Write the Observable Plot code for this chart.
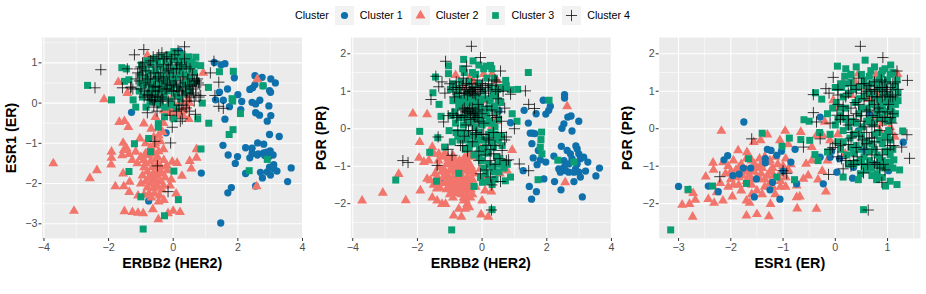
<!DOCTYPE html>
<html><head><meta charset="utf-8">
<script src="https://cdn.jsdelivr.net/npm/d3@7"></script>
<script src="https://cdn.jsdelivr.net/npm/@observablehq/plot@0.6"></script>
<style>
html,body{margin:0;padding:0;background:#fff;font-family:"Liberation Sans",Arial,sans-serif;}
#page{width:926px;height:294px;position:relative;overflow:hidden}
#legend{height:30px;display:flex;align-items:center;font-size:10.7px;color:#000;padding-left:295px;box-sizing:border-box;padding-top:0}
#legend .key{width:19px;height:19px;background:#F2F2F2;margin-right:6px;display:block}
#legend .lab{display:block}
#panels{display:flex;height:264px}
#panels svg{display:block;overflow:visible;flex:none}
[aria-label="x-axis label"],[aria-label="y-axis label"]{font:bold 14.3px "Liberation Sans",Arial,sans-serif;fill:#000}
[aria-label="x-axis tick label"],[aria-label="y-axis tick label"]{font:10.7px "Liberation Sans",Arial,sans-serif;fill:#4D4D4D}
[aria-label="x-axis tick"],[aria-label="y-axis tick"]{stroke:#333333}
</style></head><body><div id="page"><div id="legend"></div><div id="panels"></div></div>
<script>
const clusterNames = ["Cluster 1","Cluster 2","Cluster 3","Cluster 4"];
const clusterColors = ["#0F71AC","#F2756C","#0A9E73","#000000"];
const clusterSymbols = ["circle","triangle","square","plus"];

// Panel 1: ERBB2 (x), ESR1 (y)
const p1c1 = [[1.27,1.01],[1.48,.95],[1.6,.98],[1.89,.63],[2.53,.68],[2.75,.64],[3.02,.6],[3.16,.5],[2.37,.34],[2.46,.38],[2.53,.46],[2.78,.43],[2.98,.31],[3.01,.27],[1.43,.27],[1.68,.35],[2,.21],[1.31,.08],[1.55,.07],[2.12,.04],[2.44,.02],[2.55,-.02],[2.68,.07],[2.96,-.07],[1.74,-.09],[2.09,-.16],[2.55,-.24],[2.67,-.3],[3.02,-.31],[2.91,-.45],[1.6,-.4],[-1.29,-.23],[1.54,-1.05],[2.98,-.78],[3.28,-.83],[2.61,-.99],[2.8,-1.02],[2.24,-1.11],[2.44,-1.12],[1.7,-1.29],[1.99,-1.33],[2.37,-1.36],[2.63,-1.26],[2.8,-1.24],[2.9,-1.22],[3,-1.19],[2.83,-1.3],[2.95,-1.27],[3.09,-1.29],[2.95,-1.34],[2.6,-1.29],[2.44,-1.25],[1.92,-1.5],[.87,-1.74],[3.11,-1.53],[2.98,-1.59],[3.11,-1.63],[3.21,-1.69],[2.91,-1.71],[3.01,-1.79],[3.65,-1.61],[2.24,-1.75],[2.7,-1.72],[2.76,-1.86],[3.54,-1.95],[2.55,-2.06],[1.8,-2.1],[1.69,-2.23],[1.47,-2.98],[-.76,-2.43],[-.7,-1.82],[-.22,-.74],[.19,1.29],[.54,.91],[.02,.58]];
const p1c2 = [[-3.71,-1.5],[-3.07,-2.68],[-2.58,-1.87],[-2.36,-1.67],[-2.14,.09],[-1.7,.52],[-1.42,.25],[-1.91,-1.21],[-1.91,-1.36],[-1.92,-1.53],[-1.79,-2.07],[-1.53,-2.07],[-1.35,-1.96],[-1.55,-1.75],[-1.36,-2.21],[-1.09,-2.3],[-1.67,-.47],[-1.51,-.45],[-1.39,-.6],[-.91,-.51],[-.55,-.35],[-.68,-.64],[-.33,-.72],[-1.55,-.99],[-1.03,-.88],[-1.53,-1.17],[-1.58,-1.30],[-1.37,-1.27],[-1.44,-1.13],[-1.16,-1.21],[-1.0,-1.34],[-1.27,-1.42],[-.86,-1.26],[-1.11,-1.5],[-.91,-1.42],[-1.51,-2.69],[-1.26,-2.71],[-1.09,-2.73],[-.93,-2.74],[-.63,-2.64],[-.46,-2.89],[-.16,-2.74],[0,-2.68],[.21,-2.71],[-.29,-2.41],[.09,-2.25],[.72,-1.15],[.72,-1.36],[.51,-1.44],[.56,-1.63],[.27,-1.81],[-.06,-1.9],[.12,-1.49],[-.03,-1.46],[-.29,-1.42],[-.39,-1.58],[-.18,-1.67],[2.6,.59],[2.58,-2.07],[.93,.75],[.23,.63],[.48,-.4],[-.29,-.18],[.12,-.1],[.33,-.18],[-.08,.07],[-.6,.56],[-.8,1.18],[0,1.1],[-.85,-1.0],[-.7,-1.1],[-.55,-1.0],[-.4,-.95],[-.75,-1.3],[-.6,-1.25],[-.45,-1.2],[-.3,-1.15],[-.85,-1.5],[-.7,-1.45],[-.55,-1.4],[-.9,-1.6],[-.8,-1.7],[-.65,-1.6],[-.5,-1.55],[-.35,-1.75],[-.25,-1.85],[-.75,-1.85],[-.6,-1.75],[-.45,-1.7],[-.85,-1.95],[-.7,-2.0],[-.55,-1.9],[-.4,-1.95],[-.3,-2.05],[-.8,-2.1],[-.62,-2.12],[-.48,-2.08],[-.35,-2.15],[-.75,-2.25],[-.58,-2.25],[-.42,-2.3],[-.9,-2.28],[-.68,-2.35],[-.45,-2.45],[-.95,-1.8],[-1,-2.0],[-.2,-1.55],[-.1,-2.05],[-.6,-.85],[-.45,-.8],[-.3,-.5],[-.2,-.25],[.05,-.3],[.3,-.3],[.45,.1],[-.15,.4],[-.6,-1.05],[-.48,-1.35],[.2,-.25],[.4,-.1],[0,-.2],[-.1,-.15],[.5,0],[.25,.05],[-.65,-1.95],[-.55,-2.05],[-.65,-1.8],[-.5,-1.8]];
const p1c3 = [[-2.65,.44],[-1.91,.08],[-1.59,.88],[-1.45,.85],[-1.51,.54],[-1.37,.58],[-1.16,-.1],[-1.24,.08],[1.43,.78],[1.86,.79],[1.82,.11],[1.84,.05],[2.08,-.26],[1.1,-.5],[1.85,-.66],[1.73,-.78],[.76,-.39],[.9,0],[1.09,.39],[.7,1.14],[.85,.93],[2.78,.43],[-.76,-.88],[-.46,-.51],[-.46,-.6],[-.27,-.34],[.02,-.39],[-.84,-.1],[-1.2,-1.01],[.86,-1.14],[-.7,-1.21],[-1.37,-1.7],[.02,-1.69],[2.35,-1.68],[2.91,-1.4],[.16,-2.4],[-1,-2.33],[-.27,-2.8],[-.93,-3.13],[-1.05,.3],[-.95,.15],[-.9,.45],[-.85,.6],[-.8,.25],[-.75,.75],[-.72,.05],[-.7,.95],[-.68,.4],[-.65,.55],[-.6,1.1],[-.58,.2],[-.55,.8],[-.52,.35],[-.5,.65],[-.48,1],[-.45,.1],[-.42,.5],[-.4,.9],[-.38,.3],[-.35,1.15],[-.32,.7],[-.3,.45],[-.28,.15],[-.25,1.05],[-.22,.85],[-.2,.6],[-.18,.3],[-.15,1.2],[-.12,.95],[-.1,.05],[-.08,.75],[-.05,.4],[-.02,1.1],[0,.55],[.02,1.28],[.05,.85],[.08,.2],[.1,1.18],[.12,.65],[.15,.95],[.18,.4],[.2,1.05],[.22,.1],[.25,.75],[.28,1.2],[.3,.5],[.32,.9],[.35,.25],[.38,1.08],[.4,.7],[.42,.45],[.45,.95],[.48,1.15],[.5,.6],[.52,.3],[.55,.85],[.58,1.02],[.6,.5],[.65,.75],[.68,.95],[.72,.55],[-.98,.95],[-1,.7],[-1.02,.5],[-.9,.85],[-.82,1.05],[-.7,.28],[-.6,.02],[-.4,-.05],[-.25,-.1],[-.05,-.05],[.1,-.12]];
const p1c4 = [[-2.24,.83],[-2.42,.38],[-1.2,1.2],[-.91,1.33],[.35,1.4],[1.26,1.04],[1.15,.75],[1.41,.52],[1.29,.19],[1.41,-.08],[1.55,-.13],[-1.57,.38],[-1.42,.85],[-1.32,.38],[-.8,-.24],[-.03,-.6],[.28,-.39],[.69,-.28],[.85,.19],[-.08,-.99],[-.57,-.95],[-.49,-1.56],[-.16,-2.2],[-1.1,.75],[-1.05,.55],[-1,.35],[-1.3,.4],[-1.15,.6],[-.95,1],[-.85,.8],[-.85,.5],[-.8,.2],[-.75,.45],[-.7,.65],[-.68,.15],[-.62,1.15],[-.6,.4],[-.58,.05],[-.55,.6],[-.5,.9],[-.48,.2],[-.45,1.2],[-.42,.4],[-.4,.75],[-.35,.55],[-.32,.1],[-.28,1.1],[-.25,.35],[-.2,.8],[-.18,.5],[-.15,.05],[-.12,.65],[-.08,.95],[-.05,.3],[0,.75],[.02,.45],[.05,.1],[.08,.55],[.12,1.0],[.15,.3],[.18,-.05],[.2,.85],[.22,.5],[.25,-.15],[.28,.2],[.3,.65],[.35,1.1],[.38,.4],[.42,.05],[.45,.6],[.5,.15],[.52,.85],[.55,.42],[.6,.7],[.62,.25],[.65,.05],[.7,.4],[.72,.55],[.78,.5],[.82,.45],[.8,.15],[-.55,.15],[-.72,.08],[.4,-.12],[-.5,-.2],[-.1,-.3],[.22,-.45],[.05,1.2],[-.2,1.15],[-.7,1.05],[.15,1.3],[-1,.9],[-.9,.3],[-.8,.6],[-.65,.3],[-.55,.42],[-.45,.3],[-.35,.15],[-.3,.6],[-.2,.35],[-.1,.45],[0,.3],[.1,.4],[.2,.3],[.3,.35],[.4,.25],[.5,.45],[.6,.35],[.7,.2],[.75,.6],[.65,.55],[.55,.2],[-.6,.75],[-.75,.95],[-.95,.7],[-1.05,.85],[-.3,.95],[-.15,.85],[.1,.85],[.25,.95],[.4,.9],[-.5,1.1],[-.35,1.25],[-.05,1.1],[-.9,.15],[-.75,.2],[-.65,.08],[-.4,.05],[.1,-.2],[.3,-.05],[.5,-.2],[-1.25,.35],[-.6,-.1],[-.45,.65]];

// Panel 2: ERBB2 (x), PGR (y)
const p2c1 = [[1.3,.49],[1.89,.76],[2.55,.91],[2.55,.82],[2.11,.6],[2.06,.49],[1.97,.39],[1.67,.4],[1.43,.15],[.88,.16],[.52,.48],[2.65,.31],[2.75,.34],[2.99,.2],[2.53,.13],[2.47,.01],[2.78,-.06],[1.49,-.12],[1.57,-.12],[1.63,-.13],[1.54,-.4],[1.74,-.58],[2.45,-.47],[2.9,-.46],[1.58,-.78],[1.7,-.96],[1.8,-.83],[1.97,-.89],[2.22,-.73],[1.27,-1.12],[1.91,-1.34],[2.24,-1.41],[1.46,-1.54],[1.68,-1.68],[1.53,-1.88],[2.44,-1.63],[3.1,-1.82],[3.63,-1.05],[3.52,-1.26],[3.2,-1.13],[3.27,-.89],[3.14,-.76],[2.37,-1.07],[2.42,-1.16],[2.53,-.85],[2.63,-.58],[2.73,-.67],[2.68,-.94],[2.78,-.8],[2.94,-.54],[2.99,-.67],[3.04,-.8],[2.94,-.94],[2.89,-1.07],[2.99,-1.16],[3.04,-1.29],[2.84,-1.41],[2.68,-1.16],[2.58,-1.12],[2.53,-1.03],[2.84,-1.16],[.05,-.58],[-1.27,-1.43],[-.77,-1.52]];
const p2c2 = [[-3.71,-1.92],[-3.07,-1.71],[-2.36,-1.91],[-2.58,-1.21],[-2.14,.4],[-1.7,.38],[-1.93,-.36],[-1.95,-.78],[-1.8,-.89],[-1.91,-1.65],[2.63,.6],[2.57,-1.43],[.93,-.57],[.22,.8],[.09,.42],[-.3,.18],[.41,.31],[-.36,1.4],[.46,1.29],[.31,1.46],[.05,1.46],[-.26,1.25],[-.82,1.43],[-.88,-2.32],[-.64,-2.35],[-.72,-2.14],[-.52,-2.14],[-.03,-2.29],[.19,-2.35],[0,-1.92],[.29,-1.68],[.09,-1.65],[-1.6,-1.38],[-1.39,-1.29],[-1.7,-1.34],[-1.54,-1.84],[-1.39,-1.92],[-1.24,-2.01],[-1.13,-2.01],[-.9,-1.84],[-.57,-1.84],[-.36,-1.84],[-.57,-1.92],[-.46,-2.01],[-1.54,-.49],[-1.34,-.67],[-1.49,-.67],[-1.65,-.85],[-1.34,-1.03],[.77,-1.12],[-.05,-1.07],[-1.2,-.75],[-1.05,-.8],[-.9,-.72],[-.7,-.85],[-.55,-.78],[-1.1,-.95],[-.95,-.95],[-.8,-1],[-.65,-.98],[-.5,-.95],[-.35,-1],[-1.18,-1.1],[-1,-1.12],[-.85,-1.15],[-.7,-1.18],[-.55,-1.12],[-.4,-1.15],[-.25,-1.2],[-1.2,-1.3],[-1.05,-1.3],[-.9,-1.32],[-.75,-1.3],[-.6,-1.3],[-.45,-1.3],[-.3,-1.35],[-1.15,-1.45],[-1,-1.48],[-.85,-1.45],[-.7,-1.5],[-.55,-1.48],[-.4,-1.5],[-1.1,-1.62],[-.95,-1.62],[-.75,-1.65],[-.55,-1.65],[-.35,-1.62],[-.2,-1.55],[-1.3,-1.58],[.1,-1.3],[.55,-1.2],[-.4,-.65],[-.15,-.4],[-.6,.6],[-.55,1.1],[.1,.75],[-.2,-.7],[.3,.05],[.45,.2],[.55,-.4],[-1,-.85],[-.85,-.85],[-.6,-.88],[-.45,-.85],[-1.1,-1.2],[-.9,-1.05],[-.75,-1.1],[-.6,-1.05],[-.45,-1.05],[-.3,-1.1],[-1.1,-1.38],[-.95,-1.4],[-.8,-1.4],[-.65,-1.4],[-.5,-1.4],[-.35,-1.42],[-1.05,-1.55],[-.9,-1.55],[-.7,-1.58],[-.5,-1.58],[-.3,-1.55],[-1.25,-1.15],[-1.3,-1.45],[-1.45,-1.2],[-.65,-1.75],[-.45,-1.75],[-.85,-1.72],[-1,-1.75],[-.3,-1.75],[-1.4,-1.6],[-1.5,-1.5],[-1.35,-.85],[-1.15,-.65],[-.35,-.75],[-.5,-1.9],[-.4,-2.1]];
const p2c3 = [[-.94,-2.7],[-2.67,-1.37],[-1.93,-.07],[-1.62,-.63],[1.43,1.5],[2.07,.76],[1.84,-.09],[1.82,-.29],[1.8,-.49],[1.85,-.67],[1.73,-1.36],[2.34,-.84],[2.84,-.89],[1.1,1.05],[.88,1.04],[.93,.4],[1.08,.2],[.73,1.29],[.26,1.69],[.13,1.67],[-.57,1.85],[-.28,1.81],[-1.04,1.68],[-1.04,1.47],[-1.44,1.38],[-1.52,.96],[-1.33,.65],[-1.27,.33],[.31,-2.16],[-.25,-1.54],[.88,-1.29],[.72,-1.39],[-1.41,-1.4],[-1.16,-.49],[-1.37,-.24],[.01,-1.43],[.31,-1.49],[-.72,-1.19],[-.9,.75],[-.85,.45],[-.82,.15],[-.8,-.1],[-.75,1.05],[-.72,.6],[-.7,.3],[-.68,-.3],[-.65,1.25],[-.6,.8],[-.58,.1],[-.55,1.5],[-.52,-.55],[-.5,.5],[-.48,.95],[-.45,-.15],[-.42,1.25],[-.4,.2],[-.38,.7],[-.35,-.4],[-.3,1.05],[-.28,.45],[-.25,-.7],[-.22,.05],[-.2,1.45],[-.18,.85],[-.15,-.25],[-.12,.3],[-.1,1.2],[-.08,-.55],[-.05,.65],[-.02,-.85],[0,.1],[.02,1.0],[.05,1.6],[.08,-.3],[.1,.4],[.12,-1.2],[.15,1.35],[.18,.8],[.2,-.65],[.22,.2],[.25,1.1],[.28,-.1],[.3,-1.0],[.32,.55],[.35,-.5],[.38,1.35],[.4,.05],[.42,.9],[.45,-.75],[.48,1.05],[.5,.25],[.52,-1.15],[.55,-.8],[.58,.7],[.62,-.45],[.65,-.9],[.68,-1.05],[.7,1.1],[.75,1.15],[.78,-.95],[-.98,1.05],[-.95,.35],[-.92,-.35],[-1.02,-.05],[-.9,1.2],[-.8,.9],[-.7,.75],[-.6,.3],[-.55,.7],[-.45,.35],[-.4,.85],[-.35,.15],[-.3,.7],[-.25,.6],[-.2,.25],[-.15,.75],[-.1,.5],[-.05,.25],[0,.8],[.05,.5],[.1,.15],[.15,.35],[.2,.55],[.25,.75],[.3,.15],[.35,.9],[.4,.6],[.45,.45],[.5,.75],[.55,1.1],[-.75,-.2],[-.6,-.1],[-.5,-.3],[-.4,-.5],[-.3,-.2],[-.2,-.4],[-.1,-.1],[0,-.3],[.1,-.5],[.2,-.15],[.3,-.35],[.4,-.15],[.5,-.3],[.6,-.2],[-.1,-.75],[.05,-.65],[.2,-.95],[.35,-1.15],[.5,-.95],[.05,-1.05],[-.05,-1.3],[.2,-1.4],[.4,-1.35],[-.3,1.5],[-.6,1.6],[-.1,1.7],[.3,1.6],[.6,1.1]];
const p2c4 = [[-.33,2.2],[-.05,1.9],[-1.13,1.8],[-.48,1.67],[.57,1.54],[-1.43,1.4],[-1.24,1.25],[-1.58,.78],[-1.34,1.12],[1.34,1.01],[1.44,.65],[1.62,.54],[.88,.92],[1,0],[.75,-.22],[-1.36,-.22],[-1.19,.18],[-2.45,-.85],[-2.29,-.9],[-1.39,-.98],[1.15,-.94],[1.44,-1.12],[.82,-.83],[.57,-1.41],[.29,-2.17],[.26,-1.29],[-.1,-.85],[.36,-.67],[.62,-.58],[-.67,-.45],[-.93,-.71],[-1,1.2],[-.9,1.05],[-.85,.85],[-.8,1.25],[-.75,.35],[-.7,1.1],[-.65,.95],[-.6,.5],[-.58,1.35],[-.55,.3],[-.5,.1],[-.48,1.2],[-.45,.45],[-.42,-.05],[-.4,1.0],[-.38,.55],[-.35,.25],[-.32,1.2],[-.3,1.05],[-.28,.4],[-.25,.95],[-.22,.3],[-.2,1.1],[-.18,-.1],[-.15,1.3],[-.12,.65],[-.1,.2],[-.05,1.05],[0,-.15],[.02,1.2],[.05,.15],[.1,1.1],[.12,-.45],[.15,.6],[.2,1.0],[.22,-.25],[.25,-.55],[.3,1.15],[.32,.35],[.35,-.1],[.4,-.45],[.42,1.05],[.45,1.25],[.5,.8],[.55,.45],[.55,-.8],[.6,-.1],[.65,1.0],[.7,.55],[.75,-.85],[-.9,.4],[-1.05,.35],[-1.15,.95],[-1.05,-.55],[.15,-1.1],[.4,-.95],[-.05,-1.2],[.3,-1.5],[-.55,-.2],[-.75,-.05],[-.4,1.1],[-.35,1.0],[-.3,.95],[-.25,1.1],[-.2,.9],[-.15,1.05],[-.45,.9],[-.5,1.05],[-.55,.95],[-.6,1.15],[-.7,.95],[-.8,1.1],[-.1,1.0],[0,1.15],[.1,.95],[.2,1.2],[.4,1.3],[.5,1.0],[-.4,.5],[-.35,.4],[-.3,.55],[-.25,.35],[-.2,.45],[-.5,.45],[-.15,.3],[-.1,.5],[-.55,.55],[-.65,.35],[-.8,.3],[0,.4],[.3,.5],[.45,.3],[.6,.2],[-.6,-.45],[-.45,-.6],[-.3,-.35],[-.1,-.6],[.1,-.7],[.25,-.85],[.2,-.3],[.05,-.15],[-.2,-.15],[.7,-.3],[-.3,-.05]];

// Panel 3: ESR1 (x), PGR (y)
const p3c2 = [[-2.18,-.06],[-2.93,-2.03],[-2.79,-2.01],[-2.68,-1.9],[-2.73,-2.35],[-2.79,-1.65],[-2.72,-1.72],[-2.48,-1.28],[-2.34,-.91],[-2.33,-1.1],[-2.43,-1.88],[-2.32,-1.98],[-2.27,-1.7],[-2.15,-1.92],[-1.97,-1.81],[-1.7,-1.92],[-1.7,-2.32],[-1.5,-2.28],[-1.27,-2.34],[-1.64,-1.98],[-1.24,-2.01],[-.73,-2.13],[-.36,-2.14],[-.18,-1.68],[-.74,-1.83],[-.68,-1.81],[-.74,-1.52],[-.96,-.06],[-1.3,-.16],[-1.56,-.36],[-1.43,-.31],[-1.86,-.58],[-1.69,-.63],[-1.06,-.31],[-.66,-.09],[-.9,-.42],[-.61,-1.34],[-.52,-1.25],[-.33,-1.36],[-.56,-.94],[-.45,-.85],[-.25,-1.13],[-.15,-.85],[-.45,-.49],[-.24,-.18],[-.36,-.18],[-2.15,-.9],[-2.05,-1],[-2.1,-1.2],[-2,-1.35],[-1.95,-.85],[-1.9,-1.1],[-1.85,-1.3],[-1.85,-1.5],[-1.8,-.95],[-1.75,-1.15],[-1.7,-1.4],[-1.7,-.8],[-1.65,-1.25],[-1.6,-1.5],[-1.55,-.95],[-1.55,-1.15],[-1.5,-1.65],[-1.45,-.8],[-1.45,-1.35],[-1.4,-1.05],[-1.35,-1.55],[-1.3,-.9],[-1.3,-1.25],[-1.25,-1.45],[-1.2,-1.05],[-1.15,-.75],[-1.1,-1.3],[-1.05,-1.55],[-1,-1.0],[-.95,-1.3],[-2.2,-1.45],[-2.05,-1.55],[-1.95,-1.5],[-1.8,-1.65],[-1.6,-1.75],[-1.4,-1.75],[-1.15,-1.75],[-.95,-.8],[-.85,-.95],[-.04,.76],[-.2,.18],[.15,1.25],[.27,1.43],[.78,1.43],[1.19,1.46],[.63,.79],[.44,1.47],[.19,-.67],[.28,-.94],[-.1,-.31],[1.05,.04],[1.14,-.22],[.3,.9],[.9,.25],[.75,.3],[.05,.55],[.6,1.1],[.95,.75],[-2,-1.15],[-1.95,-1.25],[-1.85,-1.05],[-1.78,-1.25],[-1.7,-1.1],[-1.6,-.85],[-1.6,-1.35],[-1.5,-1.05],[-1.5,-1.3],[-1.42,-.95],[-1.42,-1.2],[-1.35,-.75],[-1.35,-1.35],[-1.25,-1.15],[-1.25,-.85],[-1.18,-1.25],[-1.2,-1.55],[-1.05,-1.2],[-1.05,-1.4],[-.95,-1.55],[-.9,-1.1],[-1.1,-.95],[.35,1.25],[.1,.3],[.05,-.15],[.95,.35],[.9,.15],[.85,-.05],[.75,.75],[.8,.9],[.4,1.2]];
const p3c1 = [[-3,-1.54],[-2.43,-1.53],[-2.24,-1.68],[-1.75,.18],[-2.06,-.72],[-2.13,-.83],[-1.76,-1.05],[-1.62,-1.05],[-1.84,-1.21],[-1.51,-1.34],[-1.55,-1.82],[-1.3,-.55],[-1.23,-.58],[-1.34,-.8],[-1.34,-.91],[-1.25,-1.63],[-1.2,-1.43],[-1.06,-1.88],[-1.03,-.6],[-1.12,-.71],[-.85,-.89],[-.77,-.55],[-1,-1.13],[-.74,-1.47],[-.29,.31],[-.23,-1.47],[-.07,-.6],[.08,-.8],[.03,-1.16],[.33,-1.32],[.57,-.58],[.44,-.06],[.26,.16],[.65,.38],[.92,.49],[1.3,-.36],[1.02,-1.12],[.73,-.94],[.35,-1.03],[-.1,-.76],[-.29,-.76],[-1.96,-1.25]];
const p3c3 = [[-3.15,-2.7],[-2.82,-1.62],[-2.35,-1.53],[-1.7,-1.46],[-1.66,-.8],[-1.4,-.12],[-1.12,-1.29],[-.88,-.25],[-.78,-1.36],[-.66,-.29],[-.6,.24],[-.5,.2],[-.38,.96],[-.26,.79],[-.49,-.31],[-.39,-.69],[-.33,-.85],[.54,-2.16],[.04,1.67],[.57,1.83],[1.06,1.7],[1.29,-.06],[1.23,-1.1],[1.18,-1.49],[1.05,-1.4],[.96,-1.53],[.15,-1.29],[.44,-1.36],[.79,-1.36],[1.12,-.83],[-1.02,-.47],[-.3,-.1],[-.15,-.62],[0,.1],[.02,.7],[.05,-.35],[.1,.35],[.12,1.1],[.15,-.05],[.18,1.4],[.2,.55],[.22,-.7],[.25,.95],[.28,-.25],[.3,1.25],[.32,.2],[.35,-.95],[.38,.7],[.4,-.45],[.42,1.1],[.45,.4],[.48,-1.2],[.5,1.45],[.52,.05],[.55,.85],[.55,-.75],[.58,1.15],[.6,-.35],[.62,.55],[.65,-1.05],[.68,1.55],[.7,.15],[.72,.95],[.75,-.55],[.78,1.25],[.8,-1.2],[.8,.4],[.82,-.1],[.85,.75],[.85,-.8],[.88,1.45],[.9,-.4],[.92,1.05],[.95,.25],[.95,-1.05],[.98,.7],[1,1.3],[1,-.6],[1.02,-.05],[1.05,.9],[1.05,-.95],[1.08,.45],[1.1,1.5],[1.12,1.1],[1.15,.65],[1.18,1.3],[1.2,.95],[.6,-1.1],[.7,-1.25],[.2,1.6],[.4,1.65],[.75,1.65],[.95,1.6],[.35,-.65],[.5,-.2],[.65,.25],[.9,-1.3],[.1,1.2],[.2,1.2],[.3,1.45],[.35,1.05],[.45,.8],[.4,.15],[.45,-.1],[.5,.55],[.55,1.3],[.6,.95],[.6,.2],[.65,1.4],[.7,1.2],[.7,.65],[.75,.85],[.75,.15],[.8,.55],[.8,1.1],[.85,1.3],[.85,.3],[.9,1.55],[.9,.95],[.9,.6],[.95,1.2],[.95,.45],[1,.85],[1,.2],[1.05,.6],[1.05,1.45],[1.1,.75],[1.1,.25],[1.15,1.15],[1.15,.4],[1.2,.75],[.25,.05],[.2,.25],[.3,-.5],[.35,-.15],[.4,-.9],[.45,-.55],[.5,-.85],[.55,-.4],[.55,-1.0],[.65,-.6],[.65,-.85],[.7,-.4],[.7,-1.05],[.75,-.15],[.8,-.7],[.85,-1],[.85,-.3],[.9,-.85],[.95,-.6],[.95,-.2],[1,-.9],[1,-.15],[1.05,-.7],[1.05,-.3],[1.1,-.55],[1.1,-1.05],[.15,.85],[.1,.55],[.05,.25],[.15,-.35],[0,1.1],[-.05,.55],[-.1,-.15],[-.15,.4],[.25,-.95],[.1,-.55]];
const p3c4 = [[.48,2.2],[.91,1.9],[1.38,1.29],[1.18,1.54],[-.04,1.37],[-.18,1.07],[-.42,.91],[-.42,.43],[-.36,.18],[-.29,-.27],[-.61,-.49],[-1.6,-.27],[-2.21,-1.28],[-.93,-1.19],[-1,-1.12],[-.13,-1.22],[.63,-2.17],[1.42,-.79],[1.27,-.49],[1.37,-.16],[.89,-1.43],[.54,-1.18],[.15,-1.07],[.03,.36],[0,-.4],[.25,-.42],[-.12,.95],[.05,.65],[.12,-.8],[.2,.85],[.25,.35],[.3,1.15],[.32,-.1],[.38,.7],[.42,-.75],[.45,1.35],[.48,.2],[.5,.95],[.52,-.3],[.55,1.2],[.6,.45],[.62,-.95],[.65,.75],[.68,1.05],[.7,-.25],[.72,.35],[.75,1.25],[.78,-.55],[.8,1.0],[.82,.55],[.85,-.05],[.88,1.3],[.9,.85],[.92,-.95],[.95,.3],[.98,1.05],[1,-.55],[1.02,.65],[1.05,1.1],[1.08,.15],[1.1,.85],[1.12,-.45],[1.15,1.25],[.1,.25],[.05,1.05],[-.1,-.55],[.35,-.85],[.6,-.1],[.75,.05],[.4,.4],[.75,-.9],[.15,.6],[.25,.95],[.3,.55],[.35,.25],[.4,1.05],[.45,.65],[.5,.35],[.5,1.2],[.55,.8],[.55,.05],[.6,1.0],[.65,.5],[.65,1.15],[.7,.85],[.7,.1],[.75,.65],[.75,1.05],[.8,.3],[.8,.85],[.85,1.1],[.85,.45],[.9,1.1],[.9,.2],[.95,.9],[.95,1.25],[1,.45],[1,1.0],[1.05,.3],[1.05,.85],[1.1,1.2],[1.1,.4],[1.15,.9],[1.2,1.05],[.4,-.5],[.45,-.2],[.5,-.95],[.55,-.55],[.6,-.4],[.65,-.25],[.7,-.7],[.75,-.35],[.8,-.95],[.85,-1.05],[.9,-.7],[.95,-1.1],[1,-.3],[1.05,-.45],[1.1,-.15],[.2,-.85],[.1,-.45],[.05,-.75],[-.05,-.5],[.25,.1],[.3,-.25],[.15,.35],[-.1,.15],[.05,.9],[.35,-.95],[.3,-1.0]];

const xMajor12 = [-4,-2,0,2,4], xMinor12 = [-3,-1,1,3];
const y1Major = [-3,-2,-1,0,1], y1Minor = [-2.5,-1.5,-.5,.5,1.5];
const y2Major = [-2,-1,0,1,2], y2Minor = [-2.5,-1.5,-.5,.5,1.5];
const x3Major = [-3,-2,-1,0,1], x3Minor = [-2.5,-1.5,-.5,.5,1.5];

function layer(points, idx){
  return Plot.dot(points, {
    x: d => d[0], y: d => d[1],
    symbol: () => clusterSymbols[idx],
    r: [3.65,3.7,3.95,3.7][idx],
    fill: idx === 3 ? "none" : clusterColors[idx],
    stroke: idx === 3 ? clusterColors[idx] : "none",
    strokeWidth: idx === 3 ? .75 : 0
  });
}
function panel(o){
  return Plot.plot({
    width:o.width, height:264,
    marginLeft:o.ml, marginRight:o.mr, marginTop:7, marginBottom:56,
    style:{background:"transparent",overflow:"visible"},
    symbol:{type:"identity"},
    x:{domain:o.xd},
    y:{domain:o.yd},
    marks:[
      Plot.frame({fill:"#EBEBEB",stroke:"none"}),
      Plot.ruleX(o.xMinor,{stroke:"#fff",strokeWidth:.55}),
      Plot.ruleY(o.yMinor,{stroke:"#fff",strokeWidth:.55}),
      Plot.ruleX(o.xMajor,{stroke:"#fff",strokeWidth:1.07}),
      Plot.ruleY(o.yMajor,{stroke:"#fff",strokeWidth:1.07}),
      Plot.axisX({ticks:o.xMajor,tickFormat:"d",tickSize:3,tickPadding:1.5,label:o.xl,labelAnchor:"center",labelArrow:"none",labelOffset:29}),
      Plot.axisY({ticks:o.yMajor,tickFormat:"d",tickSize:3,tickPadding:1.5,label:o.yl,labelAnchor:"center",labelArrow:"none",labelOffset:o.lo}),
      ...o.layers.map(([pts,i]) => layer(pts,i))
    ]
  });
}
const panels = document.getElementById("panels");
panels.append(panel({width:310,ml:41.5,mr:8,xd:[-4.06,4],yd:[-3.365,1.63],xMajor:xMajor12,xMinor:xMinor12,yMajor:y1Major,yMinor:y1Minor,xl:"ERBB2 (HER2)",yl:"ESR1 (ER)",lo:36,layers:[[p1c1,0],[p1c2,1],[p1c3,2],[p1c4,3]]}));
panels.append(panel({width:306,ml:40.3,mr:5.7,xd:[-4.06,3.98],yd:[-2.93,2.435],xMajor:xMajor12,xMinor:xMinor12,yMajor:y2Major,yMinor:y2Minor,xl:"ERBB2 (HER2)",yl:"PGR (PR)",lo:35,layers:[[p2c1,0],[p2c2,1],[p2c3,2],[p2c4,3]]}));
panels.append(panel({width:310,ml:42.7,mr:6,xd:[-3.37,1.63],yd:[-2.93,2.435],xMajor:x3Major,xMinor:x3Minor,yMajor:y2Major,yMinor:y2Minor,xl:"ESR1 (ER)",yl:"PGR (PR)",lo:37,layers:[[p3c2,1],[p3c1,0],[p3c3,2],[p3c4,3]]}));

// Legend
const legend = d3.select("#legend");
legend.append("span").attr("class","lab").style("margin-right","6px").text("Cluster");
const symbolTypes = [d3.symbolCircle,d3.symbolTriangle,d3.symbolSquare,d3.symbolPlus];
const symbolSizes = [40,43,45,43];
clusterNames.forEach((name,i)=>{
  const svg = legend.append("svg").attr("class","key").attr("viewBox","-9.5 -9.5 19 19");
  svg.append("path").attr("d",d3.symbol(symbolTypes[i],symbolSizes[i])())
    .attr("fill",i===3?"none":clusterColors[i]).attr("stroke",i===3?clusterColors[i]:"none").attr("stroke-width",.75);
  legend.append("span").attr("class","lab").style("margin-right",i<3?"8px":"0").text(name);
});
</script></body></html>
